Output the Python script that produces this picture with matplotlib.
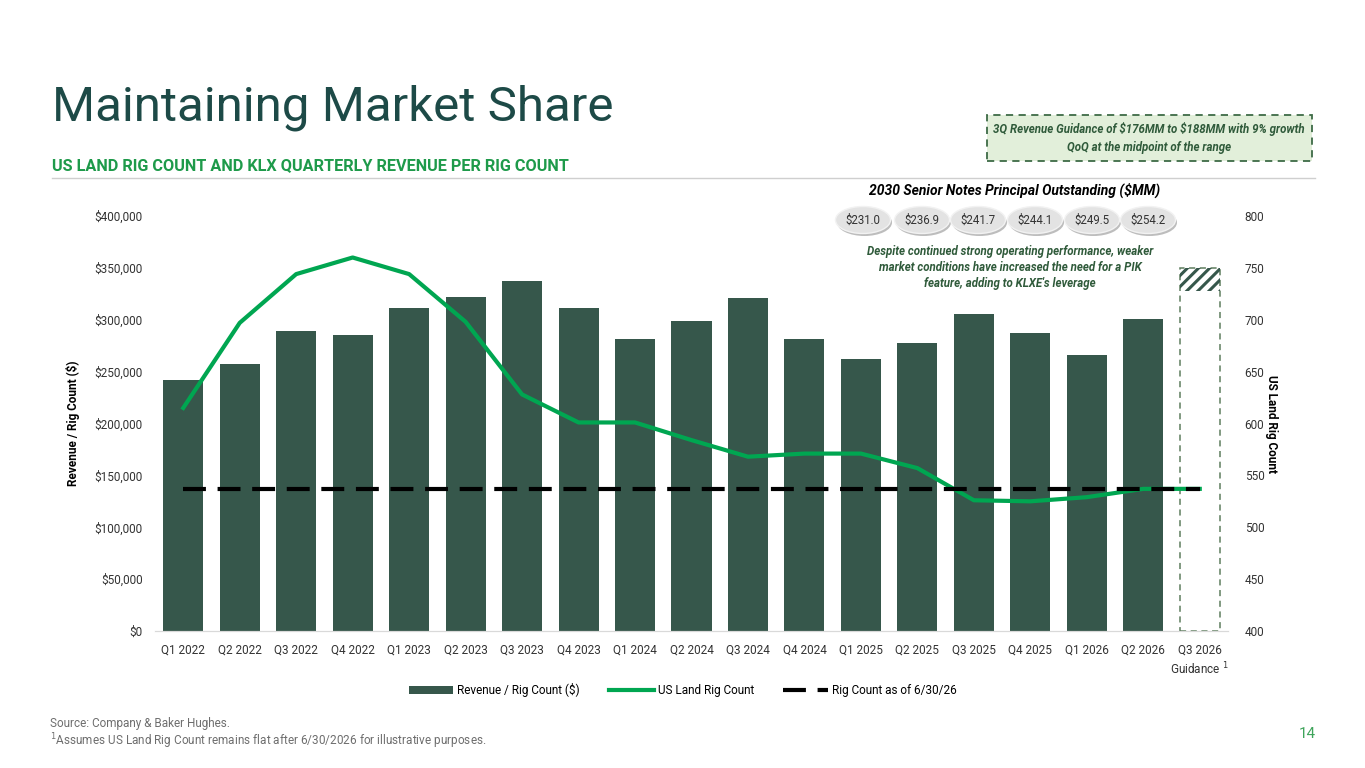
import matplotlib
matplotlib.use('Agg')
import matplotlib.pyplot as plt
from matplotlib.patches import Patch, Ellipse, Rectangle
from matplotlib.lines import Line2D
from matplotlib.ticker import FuncFormatter
import numpy as np

plt.rcParams['font.family'] = ['Roboto', 'DejaVu Sans']
plt.rcParams['hatch.linewidth'] = 2.2

# data
quarters = ['Q1 2022', 'Q2 2022', 'Q3 2022', 'Q4 2022', 'Q1 2023', 'Q2 2023', 'Q3 2023',
            'Q4 2023', 'Q1 2024', 'Q2 2024', 'Q3 2024', 'Q4 2024', 'Q1 2025', 'Q2 2025',
            'Q3 2025', 'Q4 2025', 'Q1 2026', 'Q2 2026', 'Q3 2026\nGuidance $^1$']
rev_per_rig = [242000, 257000, 289000, 285000, 311000, 322000, 337000, 311000, 281000,
               299000, 321000, 281000, 262000, 278000, 306000, 287000, 266000, 301000]
guidance_low = 328000
guidance_high = 350000
rig_count = [615, 697, 744, 760, 744, 698, 628, 601, 601, 584, 568, 571, 571, 557,
             526, 525, 529, 537, 537]
rig_count_jun26 = 537
notes_outstanding = ['231.0', '236.9', '241.7', '244.1', '249.5', '254.2']

bar_col = '#36574B'
line_col = '#00A651'
title_col = '#1D4A47'
sub_col = '#1E9A4A'
text_dk = '#2F5A3A'

fig = plt.figure(figsize=(13.65, 7.68), dpi=100)
ax = fig.add_axes([155/1365, 1-631/768, (1228-155)/1365, (631-216)/768])
ax2 = ax.twinx()

x = np.arange(len(quarters))
ax.bar(x[:-1], rev_per_rig, width=0.71, color=bar_col, zorder=2)
# guidance placeholder: dashed outline + hatched range
ax.bar(x[-1], guidance_high, width=0.71, fill=False, edgecolor='#5E7D5E',
       linestyle=(0, (4, 3)), linewidth=1.1, zorder=2)
ax.bar(x[-1], guidance_high - guidance_low, bottom=guidance_low, width=0.71, fill=False,
       hatch='///', edgecolor=bar_col, linewidth=0, zorder=3)

ax2.plot(x, rig_count, color=line_col, lw=3, zorder=3)
ax2.plot(x, [rig_count_jun26]*len(x), color='black', lw=3, dashes=(5.5, 2.8), zorder=4)

ax.set_xlim(-0.5, len(quarters)-0.5)
ax.set_ylim(0, 400000)
ax2.set_ylim(400, 800)
ax.set_yticks(np.arange(0, 400001, 50000))
ax2.set_yticks(np.arange(400, 801, 50))
ax.yaxis.set_major_formatter(FuncFormatter(lambda v, p: '\\$' + format(int(v), ',')))
ax.set_xticks(x)
ax.set_xticklabels(quarters, fontsize=8.5, color='#333333', linespacing=1.3)

for a in (ax, ax2):
    for s in ('top', 'left', 'right'):
        a.spines[s].set_visible(False)
    a.spines['bottom'].set_color('#D9D9D9')
    a.tick_params(length=0, labelsize=8.5, labelcolor='#333333')
ax.tick_params(axis='y', pad=9)
ax.tick_params(axis='x', pad=9)
ax2.tick_params(axis='y', pad=12)

ax.set_ylabel('Revenue / Rig Count (\\$)', fontsize=8.5, fontweight='bold', labelpad=10)
ax2.set_ylabel('US Land Rig Count', fontsize=8.5, fontweight='bold', rotation=270, labelpad=10)

# headings
fig.text(52/1365, 1-108/768, 'Maintaining Market Share', fontsize=35.5, color=title_col,
         va='center', ha='left')
fig.text(52/1365, 1-166/768, 'US LAND RIG COUNT AND KLX QUARTERLY REVENUE PER RIG COUNT',
         fontsize=11.7, fontweight='bold', color=sub_col, va='center', ha='left')
fig.add_artist(Line2D([52/1365, 1315/1365], [1-178/768, 1-178/768], color='#CFCFCF', lw=1,
                      transform=fig.transFigure))

# guidance call-out
fig.add_artist(Rectangle((987/1365, 1-161/768), (1312-987)/1365, 46/768, transform=fig.transFigure,
                         facecolor='#E2EFDA', edgecolor='#3E6B46', linestyle=(0, (4, 3)), lw=1.3))
fig.text(1149/1365, 1-138/768,
         '3Q Revenue Guidance of \\$176MM to \\$188MM with 9% growth\nQoQ at the midpoint of the range',
         fontsize=8.3, fontweight='bold', style='italic', color=text_dk, ha='center', va='center',
         linespacing=1.5)

# senior notes pills
fig.text(1015/1365, 1-190/768, '2030 Senior Notes Principal Outstanding (\\$MM)', fontsize=10,
         fontweight='bold', style='italic', color='black', ha='center', va='center')
pill_x = [863, 922, 978, 1035, 1092, 1148]
for px, val in zip(pill_x, notes_outstanding):
    fig.add_artist(Ellipse(((px+1.5)/1365, 1-222.5/768), 55/1365, 27/768, transform=fig.transFigure,
                           facecolor='#BDBDBD', edgecolor='none'))
    fig.add_artist(Ellipse((px/1365, 1-220/768), 55/1365, 27/768, transform=fig.transFigure,
                           facecolor='#E3E3E3', edgecolor='#F2F2F2', lw=1))
    fig.text(px/1365, 1-220/768, '\\$' + val, fontsize=8.3, color='#333333', ha='center', va='center')

fig.text(1010/1365, 1-268/768,
         "Despite continued strong operating performance, weaker\nmarket conditions have increased the need for a PIK\nfeature, adding to KLXE's leverage",
         fontsize=8.3, fontweight='bold', style='italic', color=text_dk, ha='center', va='center',
         linespacing=1.3)

# legend
handles = [Patch(facecolor=bar_col), Line2D([], [], color=line_col, lw=3),
           Line2D([], [], color='black', lw=3, dashes=(5.5, 2.8))]
fig.legend(handles, ['Revenue / Rig Count (\\$)', 'US Land Rig Count', 'Rig Count as of 6/30/26'],
           loc='center', bbox_to_anchor=(0.5, 1-690/768), ncol=3, frameon=False, fontsize=8.5,
           handlelength=3.8, handletextpad=0.3, columnspacing=2.5, handleheight=0.7)

# footer
fig.text(50/1365, 1-723/768, 'Source: Company & Baker Hughes.', fontsize=8.5, color='#6E6E6E',
         va='center')
fig.text(50/1365, 1-741/768, '$^1$Assumes US Land Rig Count remains flat after 6/30/2026 for illustrative purposes.',
         fontsize=8.5, color='#6E6E6E', va='center')
fig.text(1307/1365, 1-734/768, '14', fontsize=11, color='#3FA45B', ha='center', va='center')

plt.savefig('out.png', dpi=100)
